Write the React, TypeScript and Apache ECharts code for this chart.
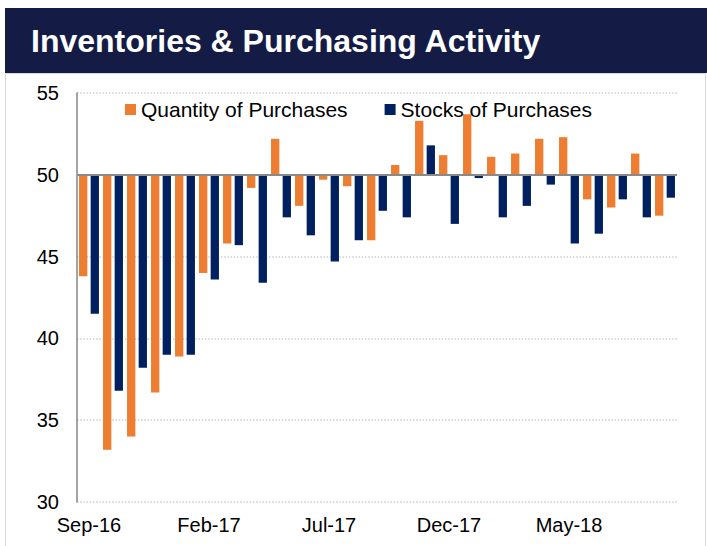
import React, { useEffect, useRef } from "react";
import * as echarts from "echarts";

const categories = [
  "Sep-16", "Oct-16", "Nov-16", "Dec-16", "Jan-17", "Feb-17", "Mar-17", "Apr-17", "May-17",
  "Jun-17", "Jul-17", "Aug-17", "Sep-17", "Oct-17", "Nov-17", "Dec-17", "Jan-18", "Feb-18",
  "Mar-18", "Apr-18", "May-18", "Jun-18", "Jul-18", "Aug-18", "Sep-18",
];

const quantityOfPurchases = [
  43.8, 33.2, 34.0, 36.7, 38.9, 44.0, 45.8, 49.2, 52.2, 48.1, 49.7, 49.3, 46.0,
  50.6, 53.3, 51.2, 53.7, 51.1, 51.3, 52.2, 52.3, 48.5, 48.0, 51.3, 47.5,
];

const stocksOfPurchases = [
  41.5, 36.8, 38.2, 39.0, 39.0, 43.6, 45.7, 43.4, 47.4, 46.3, 44.7, 46.0, 47.8,
  47.4, 51.8, 47.0, 49.8, 47.4, 48.1, 49.4, 45.8, 46.4, 48.5, 47.4, 48.6,
];

const BASE = 50;
const Y_MIN = 30;
const Y_MAX = 55;
const Y_STEP = 5;

const FONT = "'Liberation Sans', Arial, sans-serif";

export default function App() {
  const ref = useRef<HTMLDivElement>(null);

  useEffect(() => {
    if (!ref.current) return;
    const chart = echarts.init(ref.current, null, { renderer: "svg" });
    chart.setOption({
      animation: false,
      backgroundColor: "#ffffff",
      textStyle: { fontFamily: FONT },
      graphic: [
        {
          type: "rect",
          shape: { x: 5, y: 8, width: 702, height: 65 },
          style: { fill: "#141c45" },
          z: 0,
        },
        {
          type: "text",
          x: 31,
          y: 41,
          style: {
            text: "Inventories & Purchasing Activity",
            fill: "#ffffff",
            font: `bold 32px ${FONT}`,
            textVerticalAlign: "middle",
          },
          z: 1,
        },
        {
          type: "rect",
          shape: { x: 5.5, y: 73.5, width: 700, height: 490 },
          style: { fill: "none", stroke: "#d9d9d9", lineWidth: 1 },
          z: 0,
        },
      ],
      legend: {
        data: ["Quantity of Purchases", "Stocks of Purchases"],
        left: 125,
        top: 99,
        padding: 0,
        itemWidth: 11,
        itemHeight: 11,
        itemGap: 37,
        icon: "rect",
        textStyle: { fontSize: 21, color: "#000000", fontFamily: FONT },
      },
      grid: { left: 77, right: 30, top: 93, bottom: 44, containLabel: false },
      xAxis: {
        type: "category",
        data: categories,
        axisLine: { show: false },
        axisTick: { show: false },
        axisLabel: {
          interval: 4,
          fontSize: 20,
          color: "#000000",
          margin: 13,
          fontFamily: FONT,
        },
      },
      yAxis: {
        type: "value",
        min: Y_MIN - BASE,
        max: Y_MAX - BASE,
        interval: Y_STEP,
        axisLine: { show: true, lineStyle: { color: "#868686", width: 1.5 } },
        axisTick: { show: false },
        axisLabel: {
          fontSize: 20,
          color: "#000000",
          margin: 18,
          fontFamily: FONT,
          formatter: (v: number) => String(v + BASE),
        },
        splitLine: {
          show: true,
          lineStyle: { color: "#d0d0d0", width: 1.5, type: [1.5, 1.7] },
        },
      },
      series: [
        {
          name: "Quantity of Purchases",
          type: "bar",
          data: quantityOfPurchases.map((v) => +(v - BASE).toFixed(2)),
          itemStyle: { color: "#ED7D31" },
          barCategoryGap: "17%",
          barGap: "40%",
          markLine: {
            silent: true,
            symbol: "none",
            label: { show: false },
            lineStyle: { color: "#8a8a8a", width: 2, type: "solid" },
            data: [{ yAxis: 0 }],
            z: 5,
          },
        },
        {
          name: "Stocks of Purchases",
          type: "bar",
          data: stocksOfPurchases.map((v) => +(v - BASE).toFixed(2)),
          itemStyle: { color: "#002060" },
          barCategoryGap: "17%",
          barGap: "40%",
        },
      ],
    });
    return () => chart.dispose();
  }, []);

  return (
    <div
      ref={ref}
      style={{ position: "fixed", left: 0, top: 0, width: 707, height: 546 }}
    />
  );
}
